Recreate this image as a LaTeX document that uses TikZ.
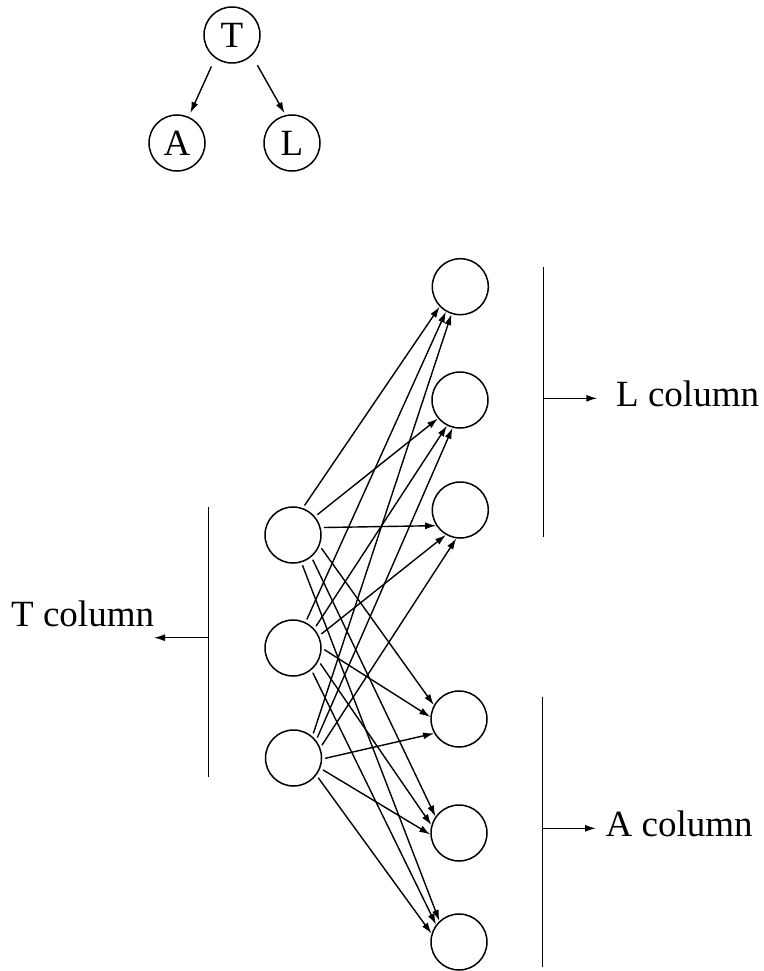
\documentclass[tikz,border=0pt]{standalone}
\usepackage{fontspec}
\setmainfont{Liberation Serif}
\usetikzlibrary{arrows.meta}
\begin{document}
\begin{tikzpicture}[x=1pt,y=-1pt,
  nd/.style={circle,draw,line width=1.5pt,minimum size=56pt,inner sep=0pt,font=\fontsize{37}{40}\selectfont},
  ar/.style={line width=1.4pt,-{Latex[length=11pt,width=7pt]},shorten <=3pt},
  bar/.style={line width=1.5pt},
  lbl/.style={inner sep=0pt,font=\fontsize{37}{40}\selectfont}]
\useasboundingbox (0,0) rectangle (763,971);
% top tree
\node[nd] (T) at (232,35) {T};
\node[nd] (A) at (177,143) {A};
\node[nd] (L) at (292,143) {L};
\draw[ar,shorten <=9pt,shorten >=4pt] (T.234.6) -- (A.66.6);
\draw[ar,shorten <=11pt,shorten >=2pt] (T.314) -- (L.103);
% network
\node[nd] (T1) at (293,535) {};
\node[nd] (T2) at (293,648) {};
\node[nd] (T3) at (293.5,758) {};
\node[nd] (L1) at (460.3,286.7) {};
\node[nd] (L2) at (460,400) {};
\node[nd] (L3) at (460.3,510) {};
\node[nd] (A1) at (459,719) {};
\node[nd] (A2) at (459,833) {};
\node[nd] (A3) at (459,942) {};
% T1
\draw[ar] (T1.70.4) -- (L1.224.4);
\draw[ar] (T1.40.6) -- (L2.220);
\draw[ar] (T1.15.3) -- (L3.213.4);
\draw[ar] (T1.-22.2) -- (A1.151.6);
\draw[ar] (T1.-50) -- (A2.145);
\draw[ar] (T1.-73) -- (A3.133);
% T2
\draw[ar] (T2.64) -- (L1.240.7);
\draw[ar] (T2.42) -- (L2.243.5);
\draw[ar] (T2.25.7) -- (L3.240.7);
\draw[ar] (T2.-0.6) -- (A1.176);
\draw[ar] (T2.-27) -- (A2.164.6);
\draw[ar] (T2.-50.5) -- (A3.143.4);
% T3
\draw[ar] (T3.49) -- (L1.252);
\draw[ar] (T3.38.5) -- (L2.255);
\draw[ar] (T3.21.8) -- (L3.262);
\draw[ar] (T3.-2.5) -- (A1.210.8);
\draw[ar] (T3.-21.2) -- (A2.183.5);
\draw[ar] (T3.-37.8) -- (A3.163);
% column bars
\draw[bar] (208.5,507) -- (208.5,776.7);
\coordinate (tb) at (208.5,637.7);
\coordinate (tt) at (154,637.7);
\draw[ar,shorten <=0pt] (tb) -- (tt);
\node[lbl,anchor=base west] (tlab) at (11,626.7) {T column};
\draw[bar] (543.5,266.7) -- (543.5,536.7);
\coordinate (lb) at (543.5,398.3);
\coordinate (lt) at (597.3,398.3);
\draw[ar,shorten <=0pt] (lb) -- (lt);
\node[lbl,anchor=base west] (llab) at (616,406.7) {L column};
\draw[bar] (542.5,696.7) -- (542.5,966.7);
\coordinate (ab) at (542.5,828.3);
\coordinate (at) at (596,828.3);
\draw[ar,shorten <=0pt] (ab) -- (at);
\node[lbl,anchor=base west] (alab) at (605.5,836) {A column};
\end{tikzpicture}
\end{document}
